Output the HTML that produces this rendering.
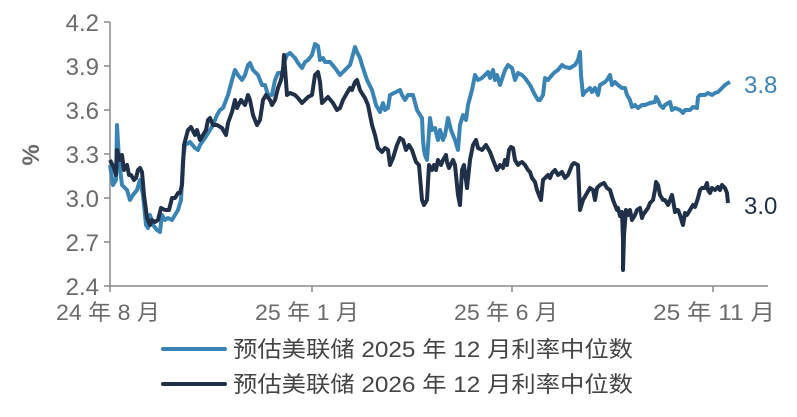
<!DOCTYPE html>
<html><head><meta charset="utf-8"><style>
body{margin:0;background:#fff;}
svg text{font-family:"Liberation Sans","Noto Sans CJK SC",sans-serif;}
</style></head><body>
<svg width="797" height="412" xmlns="http://www.w3.org/2000/svg">
<g fill="#6b6b6b" font-size="24" text-anchor="end">
<text x="99" y="31">4.2</text><text x="99" y="75">3.9</text><text x="99" y="119">3.6</text>
<text x="99" y="163">3.3</text><text x="99" y="207">3.0</text><text x="99" y="251">2.7</text><text x="99" y="295">2.4</text>
</g>
<text x="0" y="0" transform="translate(39,155) rotate(-90)" fill="#6b6b6b" font-size="24" font-weight="bold" text-anchor="middle">%</text>
<g stroke="#8a8a8a" stroke-width="1.5" fill="none">
<path d="M110,22V286H768"/>
<path d="M104,22H110M104,66H110M104,110H110M104,154H110M104,198H110M104,242H110M104,286H110"/>
<path d="M110,286V292M312,286V292M512,286V292M713,286V292"/>
</g>
<g fill="#6b6b6b" font-size="22">
<text x="56" y="320" textLength="104" lengthAdjust="spacingAndGlyphs">24 年 8 月</text>
<text x="255" y="320" textLength="104" lengthAdjust="spacingAndGlyphs">25 年 1 月</text>
<text x="454" y="320" textLength="104" lengthAdjust="spacingAndGlyphs">25 年 6 月</text>
<text x="653" y="320" textLength="122" lengthAdjust="spacingAndGlyphs">25 年 11 月</text>
</g>
<polyline fill="none" stroke="#3a84b5" stroke-width="4" stroke-linejoin="round" points="110,165 113,185 116,180 117,125 119,160 122,185 127,190 130,200 133,195 137,190 140,180 143,195 146,225 148,228 150,215 153,225 157,230 160,232 162,215 165,220 168,218 172,220 175,215 178,210 181,200 183,160 185,145 190,142 195,148 198,150 200,145 205,138 210,130 213,125 217,115 220,110 223,108 228,95 232,80 235,70 238,75 242,80 245,75 248,65 250,63 253,70 258,75 262,85 265,85 268,95 272,95 275,80 278,73 282,73 285,60 287,55 290,53 295,58 298,63 302,68 305,62 308,60 312,55 315,44 318,46 320,60 323,58 325,62 330,62 335,68 340,75 345,70 350,65 352,58 355,47 357,52 360,58 362,65 367,80 372,90 376,105 380,112 383,103 385,110 388,108 390,95 400,90 402,95 405,100 408,95 413,95 417,110 420,115 422,118 423,140 424,150 425,155 427,160 430,118 432,130 435,128 438,140 440,130 443,140 445,135 448,118 451,130 455,140 458,150 460,125 463,115 466,120 468,105 472,90 475,75 478,80 482,78 485,75 488,72 490,78 493,70 495,80 497,75 500,85 505,70 508,65 512,68 515,80 518,73 522,75 525,78 530,85 535,95 538,100 540,100 543,95 545,78 548,80 552,75 555,72 558,70 562,65 565,67 570,68 575,65 578,60 580,52 581,75 583,95 585,92 590,88 592,92 595,88 598,95 600,85 605,82 607,80 610,75 612,85 615,82 618,85 622,88 625,88 627,95 630,100 632,107 635,105 638,108 642,105 645,105 650,103 655,102 656,97 658,100 660,105 663,108 665,105 670,102 672,110 675,108 680,110 683,113 685,110 690,110 693,107 697,108 698,97 700,95 705,95 708,93 712,95 715,93 718,92 720,90 722,88 725,85 728,83 730,82"/>
<polyline fill="none" stroke="#1f3048" stroke-width="4" stroke-linejoin="round" points="110,160 114,168 116,175 117,150 120,160 122,155 124,170 127,165 129,175 131,175 134,180 136,178 138,170 140,168 142,172 144,195 146,210 147,218 150,225 152,220 155,222 158,220 161,208 165,210 169,210 172,198 175,198 178,193 180,193 182,185 184,145 188,130 191,127 195,135 197,130 200,140 203,135 206,130 208,120 210,118 213,125 217,125 222,128 226,135 228,123 232,112 235,100 237,108 241,100 245,105 248,95 250,100 253,115 257,125 260,120 263,100 266,95 270,100 272,105 275,100 278,88 281,80 283,70 284,55 285,68 287,95 290,93 295,95 298,98 302,103 305,100 308,97 312,95 315,75 318,72 320,82 322,103 325,100 328,97 333,103 337,110 340,108 343,100 347,93 350,88 352,90 355,82 357,80 360,90 363,95 365,98 368,105 372,125 375,135 378,148 382,152 385,148 388,150 390,165 393,158 397,145 400,138 403,140 406,150 409,145 412,150 416,162 419,165 422,200 424,205 427,200 429,165 432,170 434,165 436,170 438,160 441,165 443,160 446,155 447,162 449,168 453,160 455,165 458,195 460,205 462,170 464,165 467,188 470,160 473,145 476,140 478,148 482,150 486,145 490,152 493,160 497,170 500,165 503,168 505,160 507,165 509,150 511,147 513,148 515,160 518,165 520,163 522,162 525,165 528,170 530,172 532,178 535,182 537,190 539,195 541,200 543,180 545,178 548,175 550,178 552,173 555,170 558,175 562,172 565,178 568,175 572,165 574,163 578,165 580,210 583,200 587,193 590,188 593,190 595,200 597,188 600,185 604,183 607,188 610,190 613,200 615,205 617,210 618,208 620,216 622,212 623,240 623,270 624,235 626,210 628,215 630,210 632,220 635,215 637,210 640,208 642,218 643,215 648,208 650,203 653,200 655,190 656,182 658,185 660,195 663,200 665,200 668,205 670,200 672,195 673,200 675,212 677,210 678,210 680,215 682,222 683,225 685,213 687,215 690,210 693,205 695,207 698,198 700,190 702,188 705,188 707,183 708,190 710,193 712,188 715,190 718,187 720,190 722,185 725,188 727,193 728,203"/>
<text x="744" y="93" fill="#3a84b5" font-size="24">3.8</text>
<text x="744" y="214" fill="#1f3048" font-size="24">3.0</text>
<line x1="163" y1="349" x2="225" y2="349" stroke="#3a84b5" stroke-width="4" stroke-linecap="round"/>
<line x1="163" y1="384" x2="225" y2="384" stroke="#1f3048" stroke-width="4" stroke-linecap="round"/>
<g fill="#444" font-size="22">
<text x="233" y="357" textLength="400" lengthAdjust="spacingAndGlyphs">预估美联储 2025 年 12 月利率中位数</text>
<text x="233" y="392" textLength="400" lengthAdjust="spacingAndGlyphs">预估美联储 2026 年 12 月利率中位数</text>
</g>
</svg>
</body></html>
